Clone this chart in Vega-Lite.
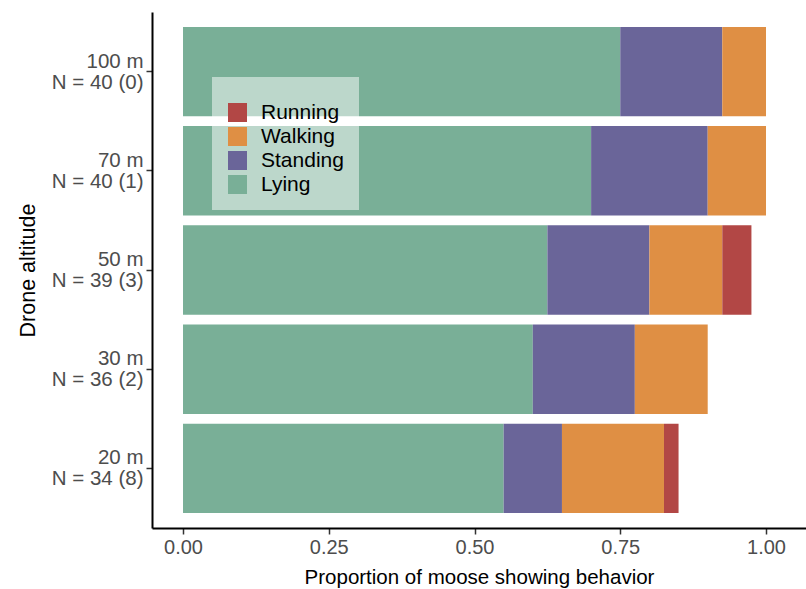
{
  "$schema": "https://vega.github.io/schema/vega-lite/v6.json",
  "width": 654,
  "height": 516,
  "autosize": {"type": "none"},
  "padding": {"left": 152, "top": 12, "right": 0, "bottom": 61},
  "background": "white",
  "config": {
    "font": "Liberation Sans",
    "view": {"stroke": null},
    "axis": {"grid": false}
  },
  "data": {
    "values": [
      {"altitude": "100 m\nN = 40 (0)", "behavior": "Lying", "proportion": 0.75},
      {"altitude": "100 m\nN = 40 (0)", "behavior": "Standing", "proportion": 0.175},
      {"altitude": "100 m\nN = 40 (0)", "behavior": "Walking", "proportion": 0.075},
      {"altitude": "70 m\nN = 40 (1)", "behavior": "Lying", "proportion": 0.70},
      {"altitude": "70 m\nN = 40 (1)", "behavior": "Standing", "proportion": 0.20},
      {"altitude": "70 m\nN = 40 (1)", "behavior": "Walking", "proportion": 0.10},
      {"altitude": "50 m\nN = 39 (3)", "behavior": "Lying", "proportion": 0.625},
      {"altitude": "50 m\nN = 39 (3)", "behavior": "Standing", "proportion": 0.175},
      {"altitude": "50 m\nN = 39 (3)", "behavior": "Walking", "proportion": 0.125},
      {"altitude": "50 m\nN = 39 (3)", "behavior": "Running", "proportion": 0.05},
      {"altitude": "30 m\nN = 36 (2)", "behavior": "Lying", "proportion": 0.60},
      {"altitude": "30 m\nN = 36 (2)", "behavior": "Standing", "proportion": 0.175},
      {"altitude": "30 m\nN = 36 (2)", "behavior": "Walking", "proportion": 0.125},
      {"altitude": "20 m\nN = 34 (8)", "behavior": "Lying", "proportion": 0.55},
      {"altitude": "20 m\nN = 34 (8)", "behavior": "Standing", "proportion": 0.10},
      {"altitude": "20 m\nN = 34 (8)", "behavior": "Walking", "proportion": 0.175},
      {"altitude": "20 m\nN = 34 (8)", "behavior": "Running", "proportion": 0.025}
    ]
  },
  "transform": [
    {"calculate": "indexof(['Lying','Standing','Walking','Running'], datum.behavior)", "as": "stackOrder"}
  ],
  "mark": {"type": "bar", "clip": true},
  "encoding": {
    "y": {
      "field": "altitude",
      "type": "nominal",
      "sort": ["100 m\nN = 40 (0)", "70 m\nN = 40 (1)", "50 m\nN = 39 (3)", "30 m\nN = 36 (2)", "20 m\nN = 34 (8)"],
      "scale": {"paddingInner": 0.1, "paddingOuter": 0.15},
      "axis": {
        "title": "Drone altitude",
        "titleFontSize": 21.5,
        "titleFontWeight": "normal",
        "titleColor": "black",
        "titlePadding": 12,
        "labelExpr": "split(datum.label, '\\n')",
        "labelFontSize": 20.5,
        "labelLineHeight": 21,
        "labelOffset": -10,
        "labelColor": "#4D4D4D",
        "labelPadding": 3,
        "domainColor": "black",
        "domainWidth": 2,
        "tickColor": "#333333",
        "tickSize": 6,
        "tickWidth": 1.5
      }
    },
    "x": {
      "field": "proportion",
      "type": "quantitative",
      "stack": "zero",
      "scale": {"domain": [-0.0532, 1.0686], "nice": false, "zero": false},
      "axis": {
        "title": "Proportion of moose showing behavior",
        "titleFontSize": 20.5,
        "titleFontWeight": "normal",
        "titleColor": "black",
        "titlePadding": 10,
        "values": [0, 0.25, 0.5, 0.75, 1],
        "format": ".2f",
        "labelFontSize": 20,
        "labelColor": "#4D4D4D",
        "labelPadding": 3,
        "domainColor": "black",
        "domainWidth": 2,
        "tickColor": "#333333",
        "tickSize": 6,
        "tickWidth": 1.5
      }
    },
    "color": {
      "field": "behavior",
      "type": "nominal",
      "scale": {
        "domain": ["Running", "Walking", "Standing", "Lying"],
        "range": ["#B24745", "#DF8F44", "#6A6599", "#79AF97"]
      },
      "legend": {
        "orient": "none",
        "legendX": 60,
        "legendY": 65,
        "title": " ",
        "titleFontSize": 8,
        "titlePadding": 2,
        "fillColor": "rgba(255,255,255,0.5)",
        "padding": 15,
        "symbolType": "square",
        "symbolSize": 361,
        "symbolStrokeWidth": 0,
        "symbolOpacity": 1,
        "labelFontSize": 21,
        "labelColor": "black",
        "labelOffset": 13,
        "rowPadding": 2
      }
    },
    "order": {"field": "stackOrder", "type": "quantitative"}
  }
}
